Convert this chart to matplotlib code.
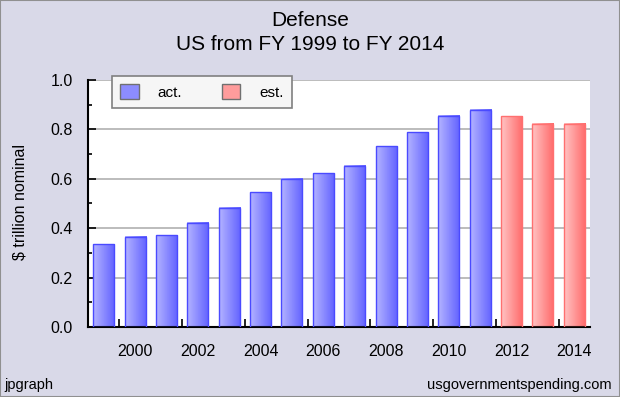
import numpy as np
import matplotlib
matplotlib.use("Agg")
import matplotlib.pyplot as plt
from matplotlib.colors import LinearSegmentedColormap
from matplotlib.patches import Rectangle

# datos
anios = list(range(1999, 2015))
valores = [0.335, 0.366, 0.371, 0.422, 0.482, 0.545, 0.600, 0.623,
           0.653, 0.731, 0.789, 0.855, 0.880, 0.854, 0.823, 0.823]
tipo = ["act."] * 13 + ["est."] * 3
etiquetas_x = [str(a) for a in anios if a % 2 == 0]

plt.rcParams['font.family'] = ['Liberation Sans', 'DejaVu Sans']

fondo = '#d9d9e8'
fig = plt.figure(figsize=(6.2, 3.97), dpi=100, facecolor=fondo)
ax = fig.add_axes([88 / 620, 1 - 327 / 397, 502 / 620, 247 / 397])
ax.set_facecolor('white')

azul = LinearSegmentedColormap.from_list('azul', ['#b4b4ff', '#6262ff'])
rojo = LinearSegmentedColormap.from_list('rojo', ['#ffc4c4', '#ff6a6a'])
gradiente = np.linspace(0, 1, 64).reshape(1, -1)

x = np.arange(len(anios))
colores_borde = ['#4a4aff' if t == "act." else '#ff7070' for t in tipo]
barras = ax.bar(x, valores, width=0.67, color='none', edgecolor=colores_borde,
                linewidth=1.0, zorder=3)
for b, t in zip(barras, tipo):
    cmap = azul if t == "act." else rojo
    ax.imshow(gradiente, cmap=cmap, aspect='auto', zorder=2.5,
              extent=[b.get_x(), b.get_x() + b.get_width(), 0, b.get_height()],
              interpolation='bilinear')

ax.set_xlim(-0.5, len(anios) - 0.5)
ax.set_ylim(0, 1.0)

# rejilla horizontal
ax.set_yticks(np.arange(0, 1.01, 0.2))
ax.set_yticks(np.arange(0.1, 1.0, 0.2), minor=True)
ax.set_yticklabels(['%.1f' % v for v in np.arange(0, 1.01, 0.2)], fontsize=11.5)
ax.yaxis.grid(True, color='#b0b0b0', linewidth=1.2, zorder=1)
ax.set_axisbelow(True)
ax.tick_params(axis='y', which='major', direction='in', length=6, width=1.2, pad=11)
ax.tick_params(axis='y', which='minor', direction='in', length=3, width=1.2)

# eje x: etiquetas en los anios pares, marcas entre barras
pos_pares = [i for i, a in enumerate(anios) if a % 2 == 0]
ax.set_xticks(pos_pares)
ax.set_xticklabels(etiquetas_x, fontsize=11.5)
ax.set_xticks([p - 0.5 for p in pos_pares], minor=True)
ax.tick_params(axis='x', which='major', length=0, pad=12)
ax.tick_params(axis='x', which='minor', direction='in', length=6, width=1.2)

for lado in ['top', 'right']:
    ax.spines[lado].set_visible(False)
for lado in ['left', 'bottom']:
    ax.spines[lado].set_linewidth(1.5)

fig.text(20 / 620, 1 - 202 / 397, '$ trillion nominal', rotation=90,
         ha='center', va='center', fontsize=11.5)

# leyenda
leg = ax.legend(handles=[Rectangle((0, 0), 1, 1, facecolor='#8c8cff', edgecolor='#707070'),
                         Rectangle((0, 0), 1, 1, facecolor='#ff9c9c', edgecolor='#707070')],
                labels=['act.', 'est.'], ncol=2, loc='upper left',
                bbox_to_anchor=(112 / 620, 1 - 76 / 397), bbox_transform=fig.transFigure,
                borderaxespad=0, fontsize=11, frameon=True,
                fancybox=False, edgecolor='#808080', facecolor='#f6f6f6',
                handlelength=1.2, handleheight=1.05, columnspacing=2.6,
                handletextpad=1.25, borderpad=0.55, framealpha=1)
leg.get_frame().set_linewidth(1.2)
leg.set_zorder(10)

fig.text(0.5, 1 - 21 / 397, 'Defense', ha='center', va='center', fontsize=15)
fig.text(0.5, 1 - 45 / 397, 'US from FY 1999 to FY 2014', ha='center', va='center', fontsize=15)
fig.text(4 / 620, 1 - 385 / 397, 'jpgraph', ha='left', va='center', fontsize=10.5)
fig.text(612 / 620, 1 - 385 / 397, 'usgovernmentspending.com', ha='right', va='center', fontsize=10.5)

# borde de la figura
fig.patches.append(Rectangle((0, 0), 1, 1, transform=fig.transFigure, fill=False,
                             edgecolor='#909090', linewidth=1.5))

fig.savefig('out.png', dpi=100, facecolor=fondo)
